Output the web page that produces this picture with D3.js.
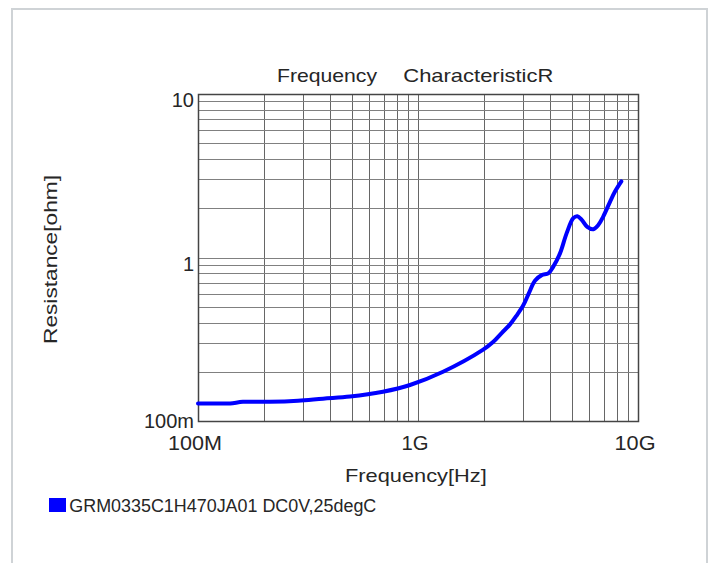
<!DOCTYPE html>
<html><head><meta charset="utf-8">
<script src="https://cdn.jsdelivr.net/npm/d3@7"></script>
<style>
html,body{margin:0;padding:0;background:#fff;}
svg{display:block;font-family:"Liberation Sans",Arial,sans-serif;}
</style></head>
<body><svg id="c" width="712" height="563"></svg>
<script>
const freqHz = [1.0e8,1.2e8,1.4e8,1.6e8,2.12e8,2.85e8,3.7e8,4.91e8,6.93e8,9.2e8,1.3e9,1.97e9,2.2e9,2.4e9,2.62e9,2.8e9,3.01e9,3.2e9,3.4e9,3.65e9,3.91e9,4.12e9,4.42e9,4.74e9,5.08e9,5.3e9,5.55e9,5.88e9,6.27e9,6.6e9,6.95e9,7.46e9,7.86e9,8.4e9];
const resistance = [0.128,0.128,0.128,0.131,0.131,0.133,0.137,0.141,0.151,0.166,0.200,0.272,0.305,0.345,0.39,0.44,0.51,0.61,0.72,0.78,0.80,0.88,1.06,1.41,1.74,1.79,1.70,1.54,1.49,1.58,1.78,2.19,2.53,2.92];
const xTickValues = [1e8,1e9,1e10];
const xTickLabels = ["100M","1G","10G"];
const yTickValues = [0.1,1,10];
const yTickLabels = ["100m","1","10"];
const titleParts = ["Frequency","CharacteristicR"];
const xLabel = "Frequency[Hz]";
const yLabel = "Resistance[ohm]";
const legendLabel = "GRM0335C1H470JA01 DC0V,25degC";

const svg = d3.select("#c");
const L=198,R=638,T=94,B=421;
const x = d3.scaleLog().domain([1e8,1e10]).range([L,R]);
const y = d3.scaleLog().domain([0.1,10]).range([B,T]);
const ink = "#262626";

// outer frame
svg.append("rect").attr("x",12).attr("y",9).attr("width",695).attr("height",570)
  .attr("fill","none").attr("stroke","#cfd3d6").attr("stroke-width",2);

// grid
const xg=[],yg=[];
[1e8,1e9].forEach(d=>{for(let k=1;k<=9;k++)xg.push(d*k);}); xg.push(1e10);
[0.1,1].forEach(d=>{for(let k=1;k<=9;k++)yg.push(d*k);}); yg.push(10);
const g=svg.append("g");
g.selectAll("line.v").data(xg).join("line").attr("class","v")
  .attr("x1",d=>Math.round(x(d))+0.5).attr("x2",d=>Math.round(x(d))+0.5)
  .attr("y1",T).attr("y2",B).attr("stroke","#666").attr("stroke-width",1);
g.selectAll("line.h").data(yg).join("line").attr("class","h")
  .attr("y1",d=>Math.round(y(d))+0.5).attr("y2",d=>Math.round(y(d))+0.5)
  .attr("x1",L).attr("x2",R).attr("stroke","#808080").attr("stroke-width",1);
svg.append("rect").attr("x",L+0.5).attr("y",T+0.5).attr("width",R-L).attr("height",B-T)
  .attr("fill","none").attr("stroke","#444").attr("stroke-width",1.5);

// tick labels
const xW = [54,27,41];
svg.selectAll("text.xt").data(xTickValues).join("text").attr("class","xt")
  .attr("x",(d,i)=>x(d)-3-xW[i]/2).attr("y",450)
  .attr("font-size",20.5).attr("fill",ink)
  .attr("textLength",(d,i)=>xW[i]).attr("lengthAdjust","spacingAndGlyphs")
  .text((d,i)=>xTickLabels[i]);
const yBase = [428,270.5,106.7];
svg.selectAll("text.yt").data(yTickValues).join("text").attr("class","yt")
  .attr("x",194).attr("y",(d,i)=>yBase[i]).attr("text-anchor","end")
  .attr("font-size",20).attr("fill",ink)
  .text((d,i)=>yTickLabels[i]);

// titles
const lt = (sel)=>sel.attr("fill",ink).attr("lengthAdjust","spacingAndGlyphs");
lt(svg.append("text").attr("x",277).attr("y",81.7).attr("font-size",18.5)
  .attr("textLength",100)).text(titleParts[0]);
lt(svg.append("text").attr("x",403.3).attr("y",81.7).attr("font-size",18.5)
  .attr("textLength",150)).text(titleParts[1]);
lt(svg.append("text").attr("x",345).attr("y",482.3).attr("font-size",19)
  .attr("textLength",141.7)).text(xLabel);
lt(svg.append("text").attr("transform","translate(56.7,344) rotate(-90)")
  .attr("font-size",18.5).attr("textLength",169)).text(yLabel);

// curve
const data = freqHz.map((f,i)=>[f,resistance[i]]);
svg.append("path").datum(data)
  .attr("d",d3.line().x(d=>x(d[0])).y(d=>y(d[1])).curve(d3.curveCatmullRom.alpha(0.5)))
  .attr("fill","none").attr("stroke","#0000ff").attr("stroke-width",4)
  .attr("stroke-linecap","round").attr("stroke-linejoin","round");

// legend
svg.append("rect").attr("x",49).attr("y",498).attr("width",17).attr("height",14).attr("fill","#0000ff");
lt(svg.append("text").attr("x",69.3).attr("y",511.5).attr("font-size",18)
  .attr("textLength",307)).text(legendLabel);
</script></body></html>
